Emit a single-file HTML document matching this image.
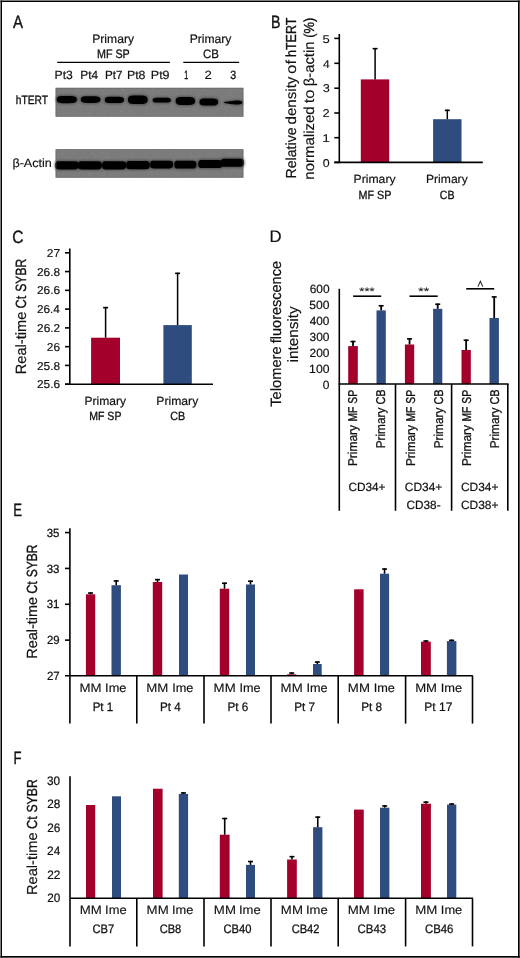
<!DOCTYPE html>
<html><head><meta charset="utf-8"><style>
html,body{margin:0;padding:0;background:#fff;}
svg{display:block;}
text{font-family:"Liberation Sans", sans-serif;fill:#111;text-rendering:geometricPrecision;}
</style></head><body>
<svg width="520" height="958" viewBox="0 0 520 958">
<defs><filter id="bl" x="-10%" y="-50%" width="120%" height="200%"><feGaussianBlur stdDeviation="0.6"/></filter>
<filter id="bl2" x="-20%" y="-80%" width="140%" height="260%"><feGaussianBlur stdDeviation="1.3"/></filter>
<filter id="noise" x="0" y="0" width="100%" height="100%"><feTurbulence type="fractalNoise" baseFrequency="0.35" numOctaves="2" seed="3"/><feColorMatrix type="matrix" values="0 0 0 0 0.47  0 0 0 0 0.47  0 0 0 0 0.47  0 0 0 1.2 -0.6"/></filter>
<pattern id="tex" patternUnits="userSpaceOnUse" width="190" height="30"><rect width="190" height="30" filter="url(#noise)"/></pattern></defs>
<rect x="0" y="0" width="520" height="958" fill="#fff"/>
<g id="gel"><rect x="55.6" y="87.8" width="187.8" height="28.9" fill="#7b7b7b"/><rect x="55.6" y="149.2" width="187.8" height="28.5" fill="#7b7b7b"/><rect x="55.6" y="87.8" width="187.8" height="28.9" fill="url(#tex)" opacity="0.25"/><rect x="55.6" y="149.2" width="187.8" height="28.5" fill="url(#tex)" opacity="0.25"/><g filter="url(#bl2)" fill="#2a2a2a" opacity="0.55"><path d="M55.80 99.55 C55.80 95.45 58.60 95.00 62.80 95.00 L70.80 95.00 C75.35 95.00 77.80 96.09 77.80 99.55 C77.80 103.01 75.35 104.10 70.80 104.10 L62.80 104.10 C58.60 104.10 55.80 103.65 55.80 99.55 Z"/><path d="M79.90 99.60 C79.90 95.82 82.70 95.40 86.90 95.40 L94.30 95.40 C98.85 95.40 101.30 96.41 101.30 99.60 C101.30 102.79 98.85 103.80 94.30 103.80 L86.90 103.80 C82.70 103.80 79.90 103.38 79.90 99.60 Z"/><path d="M103.90 99.90 C103.90 96.30 106.70 95.90 110.90 95.90 L117.90 95.90 C122.45 95.90 124.90 96.86 124.90 99.90 C124.90 102.94 122.45 103.90 117.90 103.90 L110.90 103.90 C106.70 103.90 103.90 103.50 103.90 99.90 Z"/><path d="M127.00 99.75 C127.00 95.11 129.80 94.60 134.00 94.60 L141.60 94.60 C146.15 94.60 148.60 95.84 148.60 99.75 C148.60 103.66 146.15 104.90 141.60 104.90 L134.00 104.90 C129.80 104.90 127.00 104.39 127.00 99.75 Z"/><path d="M151.80 100.20 C151.80 97.23 154.52 96.90 158.60 96.90 L165.00 96.90 C169.42 96.90 171.80 97.69 171.80 100.20 C171.80 102.71 169.42 103.50 165.00 103.50 L158.60 103.50 C154.52 103.50 151.80 103.17 151.80 100.20 Z"/><path d="M174.80 101.05 C174.80 96.68 177.60 96.20 181.80 96.20 L189.00 96.20 C193.55 96.20 196.00 97.36 196.00 101.05 C196.00 104.74 193.55 105.90 189.00 105.90 L181.80 105.90 C177.60 105.90 174.80 105.42 174.80 101.05 Z"/><path d="M198.60 102.05 C198.60 98.04 201.37 97.60 205.54 97.60 L212.06 97.60 C216.57 97.60 219.00 98.67 219.00 102.05 C219.00 105.43 216.57 106.50 212.06 106.50 L205.54 106.50 C201.37 106.50 198.60 106.06 198.60 102.05 Z"/><path d="M222.90 102.60 C222.90 101.73 225.67 101.44 229.84 100.74 L236.36 99.70 C240.87 99.70 243.30 100.40 243.30 102.60 C243.30 104.80 240.87 105.50 236.36 105.50 L229.84 104.46 C225.67 103.76 222.90 103.47 222.90 102.60 Z"/><path d="M54.40 165.35 C54.40 160.90 56.02 160.40 58.45 160.40 L75.65 160.40 C78.28 160.40 79.70 161.59 79.70 165.35 C79.70 169.11 78.28 170.30 75.65 170.30 L58.45 170.30 C56.02 170.30 54.40 169.81 54.40 165.35 Z"/><path d="M77.00 165.35 C77.00 160.90 78.65 160.40 81.13 160.40 L98.67 160.40 C101.36 160.40 102.80 161.59 102.80 165.35 C102.80 169.11 101.36 170.30 98.67 170.30 L81.13 170.30 C78.65 170.30 77.00 169.81 77.00 165.35 Z"/><path d="M101.10 165.35 C101.10 160.90 102.77 160.40 105.28 160.40 L123.02 160.40 C125.74 160.40 127.20 161.59 127.20 165.35 C127.20 169.11 125.74 170.30 123.02 170.30 L105.28 170.30 C102.77 170.30 101.10 169.81 101.10 165.35 Z"/><path d="M125.20 165.10 C125.20 160.60 126.84 160.10 129.30 160.10 L146.70 160.10 C149.37 160.10 150.80 161.30 150.80 165.10 C150.80 168.90 149.37 170.10 146.70 170.10 L129.30 170.10 C126.84 170.10 125.20 169.60 125.20 165.10 Z"/><path d="M149.20 164.60 C149.20 160.37 150.79 159.90 153.18 159.90 L170.12 159.90 C172.71 159.90 174.10 161.03 174.10 164.60 C174.10 168.17 172.71 169.30 170.12 169.30 L153.18 169.30 C150.79 169.30 149.20 168.83 149.20 164.60 Z"/><path d="M173.50 164.70 C173.50 160.38 175.02 159.90 177.31 159.90 L193.49 159.90 C195.97 159.90 197.30 161.05 197.30 164.70 C197.30 168.35 195.97 169.50 193.49 169.50 L177.31 169.50 C175.02 169.50 173.50 169.02 173.50 164.70 Z"/><path d="M197.30 164.00 C197.30 159.59 198.98 159.10 201.51 159.10 L219.39 159.10 C222.13 159.10 223.60 160.28 223.60 164.00 C223.60 167.72 222.13 168.90 219.39 168.90 L201.51 168.90 C198.98 168.90 197.30 168.41 197.30 164.00 Z"/><path d="M220.00 162.75 C220.00 158.29 221.59 157.80 223.97 157.80 L240.83 157.80 C243.41 157.80 244.80 158.99 244.80 162.75 C244.80 166.51 243.41 167.70 240.83 167.70 L223.97 167.70 C221.59 167.70 220.00 167.21 220.00 162.75 Z"/></g><g filter="url(#bl)" fill="#000"><path d="M56.70 99.55 C56.70 96.27 59.45 95.90 63.57 95.90 L70.03 95.90 C74.50 95.90 76.90 96.78 76.90 99.55 C76.90 102.32 74.50 103.20 70.03 103.20 L63.57 103.20 C59.45 103.20 56.70 102.84 56.70 99.55 Z"/><path d="M80.80 99.60 C80.80 96.63 83.47 96.30 87.46 96.30 L93.74 96.30 C98.07 96.30 100.40 97.09 100.40 99.60 C100.40 102.11 98.07 102.90 93.74 102.90 L87.46 102.90 C83.47 102.90 80.80 102.57 80.80 99.60 Z"/><path d="M104.80 99.90 C104.80 97.11 107.41 96.80 111.33 96.80 L117.47 96.80 C121.72 96.80 124.00 97.54 124.00 99.90 C124.00 102.26 121.72 103.00 117.47 103.00 L111.33 103.00 C107.41 103.00 104.80 102.69 104.80 99.90 Z"/><path d="M127.90 99.75 C127.90 95.92 130.59 95.50 134.63 95.50 L140.97 95.50 C145.34 95.50 147.70 96.52 147.70 99.75 C147.70 102.98 145.34 104.00 140.97 104.00 L134.63 104.00 C130.59 104.00 127.90 103.58 127.90 99.75 Z"/><path d="M152.70 100.20 C152.70 98.04 155.18 97.80 158.89 97.80 L164.71 97.80 C168.73 97.80 170.90 98.38 170.90 100.20 C170.90 102.02 168.73 102.60 164.71 102.60 L158.89 102.60 C155.18 102.60 152.70 102.36 152.70 100.20 Z"/><path d="M175.70 101.05 C175.70 97.49 178.34 97.10 182.30 97.10 L188.50 97.10 C192.79 97.10 195.10 98.05 195.10 101.05 C195.10 104.05 192.79 105.00 188.50 105.00 L182.30 105.00 C178.34 105.00 175.70 104.61 175.70 101.05 Z"/><path d="M199.50 102.05 C199.50 98.86 202.03 98.50 205.82 98.50 L211.78 98.50 C215.89 98.50 218.10 99.35 218.10 102.05 C218.10 104.75 215.89 105.60 211.78 105.60 L205.82 105.60 C202.03 105.60 199.50 105.24 199.50 102.05 Z"/><path d="M223.80 102.60 C223.80 102.00 226.33 101.80 230.12 101.32 L236.08 100.60 C240.19 100.60 242.40 101.08 242.40 102.60 C242.40 104.12 240.19 104.60 236.08 104.60 L230.12 103.88 C226.33 103.40 223.80 103.20 223.80 102.60 Z"/><path d="M55.30 165.35 C55.30 161.71 56.80 161.30 59.06 161.30 L75.04 161.30 C77.48 161.30 78.80 162.27 78.80 165.35 C78.80 168.43 77.48 169.40 75.04 169.40 L59.06 169.40 C56.80 169.40 55.30 169.00 55.30 165.35 Z"/><path d="M77.90 165.35 C77.90 161.71 79.44 161.30 81.74 161.30 L98.06 161.30 C100.56 161.30 101.90 162.27 101.90 165.35 C101.90 168.43 100.56 169.40 98.06 169.40 L81.74 169.40 C79.44 169.40 77.90 169.00 77.90 165.35 Z"/><path d="M102.00 165.35 C102.00 161.71 103.56 161.30 105.89 161.30 L122.41 161.30 C124.94 161.30 126.30 162.27 126.30 165.35 C126.30 168.43 124.94 169.40 122.41 169.40 L105.89 169.40 C103.56 169.40 102.00 169.00 102.00 165.35 Z"/><path d="M126.10 165.10 C126.10 161.41 127.62 161.00 129.91 161.00 L146.09 161.00 C148.57 161.00 149.90 161.98 149.90 165.10 C149.90 168.22 148.57 169.20 146.09 169.20 L129.91 169.20 C127.62 169.20 126.10 168.79 126.10 165.10 Z"/><path d="M150.10 164.60 C150.10 161.18 151.58 160.80 153.80 160.80 L169.50 160.80 C171.91 160.80 173.20 161.71 173.20 164.60 C173.20 167.49 171.91 168.40 169.50 168.40 L153.80 168.40 C151.58 168.40 150.10 168.02 150.10 164.60 Z"/><path d="M174.40 164.70 C174.40 161.19 175.81 160.80 177.92 160.80 L192.88 160.80 C195.17 160.80 196.40 161.74 196.40 164.70 C196.40 167.66 195.17 168.60 192.88 168.60 L177.92 168.60 C175.81 168.60 174.40 168.21 174.40 164.70 Z"/><path d="M198.20 164.00 C198.20 160.40 199.77 160.00 202.12 160.00 L218.78 160.00 C221.33 160.00 222.70 160.96 222.70 164.00 C222.70 167.04 221.33 168.00 218.78 168.00 L202.12 168.00 C199.77 168.00 198.20 167.60 198.20 164.00 Z"/><path d="M220.90 162.75 C220.90 159.10 222.37 158.70 224.58 158.70 L240.22 158.70 C242.61 158.70 243.90 159.67 243.90 162.75 C243.90 165.83 242.61 166.80 240.22 166.80 L224.58 166.80 C222.37 166.80 220.90 166.40 220.90 162.75 Z"/></g><rect x="56.0" y="88.2" width="187.0" height="28.1" fill="none" stroke="#5e5e5e" stroke-width="0.8" opacity="0.6"/><rect x="56.0" y="149.6" width="187.0" height="27.7" fill="none" stroke="#5e5e5e" stroke-width="0.8" opacity="0.6"/></g>
<g id="shapes"><line x1="57.2" y1="62.4" x2="169.9" y2="62.4" stroke="#000" stroke-width="1.3"/><line x1="183.3" y1="62.4" x2="239.1" y2="62.4" stroke="#000" stroke-width="1.3"/><rect x="360.8" y="79.4" width="28.40" height="83.00" fill="#a3002b"/><rect x="433.1" y="119.2" width="28.40" height="43.20" fill="#2e4c7e"/><line x1="375.1" y1="47.9" x2="375.1" y2="79.4" stroke="#000" stroke-width="1.5"/><line x1="372.6" y1="48.65" x2="377.6" y2="48.65" stroke="#000" stroke-width="1.6"/><line x1="447.3" y1="109.6" x2="447.3" y2="119.2" stroke="#000" stroke-width="1.5"/><line x1="444.8" y1="110.35" x2="449.8" y2="110.35" stroke="#000" stroke-width="1.6"/><line x1="339.3" y1="34.0" x2="339.3" y2="163.1" stroke="#000" stroke-width="1.6"/><line x1="334.3" y1="38.4" x2="339.3" y2="38.4" stroke="#000" stroke-width="1.6"/><line x1="334.3" y1="63.3" x2="339.3" y2="63.3" stroke="#000" stroke-width="1.6"/><line x1="334.3" y1="88.2" x2="339.3" y2="88.2" stroke="#000" stroke-width="1.6"/><line x1="334.3" y1="113.0" x2="339.3" y2="113.0" stroke="#000" stroke-width="1.6"/><line x1="334.3" y1="137.7" x2="339.3" y2="137.7" stroke="#000" stroke-width="1.6"/><line x1="334.3" y1="162.4" x2="339.3" y2="162.4" stroke="#000" stroke-width="1.6"/><line x1="334.3" y1="162.4" x2="482.8" y2="162.4" stroke="#000" stroke-width="1.6"/><rect x="91.1" y="337.7" width="28.90" height="46.50" fill="#a3002b"/><rect x="163.4" y="325.1" width="28.40" height="59.10" fill="#2e4c7e"/><line x1="105.6" y1="306.9" x2="105.6" y2="337.7" stroke="#000" stroke-width="1.5"/><line x1="103.1" y1="307.65" x2="108.1" y2="307.65" stroke="#000" stroke-width="1.6"/><line x1="177.6" y1="272.6" x2="177.6" y2="325.1" stroke="#000" stroke-width="1.5"/><line x1="175.1" y1="273.35" x2="180.1" y2="273.35" stroke="#000" stroke-width="1.6"/><line x1="69.8" y1="248.5" x2="69.8" y2="384.9" stroke="#000" stroke-width="1.6"/><line x1="65.0" y1="384.2" x2="69.8" y2="384.2" stroke="#000" stroke-width="1.6"/><line x1="65.0" y1="365.43" x2="69.8" y2="365.43" stroke="#000" stroke-width="1.6"/><line x1="65.0" y1="346.65999999999997" x2="69.8" y2="346.65999999999997" stroke="#000" stroke-width="1.6"/><line x1="65.0" y1="327.89" x2="69.8" y2="327.89" stroke="#000" stroke-width="1.6"/><line x1="65.0" y1="309.12" x2="69.8" y2="309.12" stroke="#000" stroke-width="1.6"/><line x1="65.0" y1="290.35" x2="69.8" y2="290.35" stroke="#000" stroke-width="1.6"/><line x1="65.0" y1="271.58" x2="69.8" y2="271.58" stroke="#000" stroke-width="1.6"/><line x1="65.0" y1="252.81" x2="69.8" y2="252.81" stroke="#000" stroke-width="1.6"/><line x1="65.0" y1="384.2" x2="213.0" y2="384.2" stroke="#000" stroke-width="1.6"/><rect x="348.2" y="346.1" width="9.60" height="37.90" fill="#a3002b"/><line x1="353.0" y1="340.8" x2="353.0" y2="346.1" stroke="#000" stroke-width="1.8"/><line x1="350.5" y1="341.55" x2="355.5" y2="341.55" stroke="#000" stroke-width="1.6"/><rect x="376.5" y="310.4" width="9.30" height="73.60" fill="#2e4c7e"/><line x1="381.15" y1="305.0" x2="381.15" y2="310.4" stroke="#000" stroke-width="1.8"/><line x1="378.65" y1="305.75" x2="383.65" y2="305.75" stroke="#000" stroke-width="1.6"/><rect x="404.9" y="344.5" width="9.30" height="39.50" fill="#a3002b"/><line x1="409.54999999999995" y1="338.1" x2="409.54999999999995" y2="344.5" stroke="#000" stroke-width="1.8"/><line x1="407.04999999999995" y1="338.85" x2="412.04999999999995" y2="338.85" stroke="#000" stroke-width="1.6"/><rect x="433.1" y="308.8" width="9.20" height="75.20" fill="#2e4c7e"/><line x1="437.70000000000005" y1="303.5" x2="437.70000000000005" y2="308.8" stroke="#000" stroke-width="1.8"/><line x1="435.20000000000005" y1="304.25" x2="440.20000000000005" y2="304.25" stroke="#000" stroke-width="1.6"/><rect x="461.5" y="350.0" width="9.30" height="34.00" fill="#a3002b"/><line x1="466.15" y1="339.5" x2="466.15" y2="350.0" stroke="#000" stroke-width="1.8"/><line x1="463.65" y1="340.25" x2="468.65" y2="340.25" stroke="#000" stroke-width="1.6"/><rect x="489.5" y="318.0" width="9.40" height="66.00" fill="#2e4c7e"/><line x1="494.2" y1="296.2" x2="494.2" y2="318.0" stroke="#000" stroke-width="1.8"/><line x1="491.7" y1="296.95" x2="496.7" y2="296.95" stroke="#000" stroke-width="1.6"/><line x1="339.3" y1="288.8" x2="339.3" y2="510.8" stroke="#000" stroke-width="1.6"/><line x1="338.5" y1="384.0" x2="508.6" y2="384.0" stroke="#000" stroke-width="1.6"/><line x1="395.5" y1="384.0" x2="395.5" y2="510.8" stroke="#000" stroke-width="1.6"/><line x1="451.6" y1="384.0" x2="451.6" y2="510.8" stroke="#000" stroke-width="1.6"/><line x1="507.8" y1="384.0" x2="507.8" y2="510.8" stroke="#000" stroke-width="1.6"/><line x1="353.1" y1="296.2" x2="381.2" y2="296.2" stroke="#000" stroke-width="1.6"/><line x1="409.5" y1="296.2" x2="437.7" y2="296.2" stroke="#000" stroke-width="1.6"/><line x1="466.2" y1="288.8" x2="494.2" y2="288.8" stroke="#000" stroke-width="1.6"/><path d="M477.9 286.6 L480.35 281.3 L482.8 286.6" fill="none" stroke="#222" stroke-width="1.05"/><rect x="85.9" y="594.3" width="9.30" height="81.50" fill="#a3002b"/><line x1="90.55000000000001" y1="592.3" x2="90.55000000000001" y2="594.3" stroke="#000" stroke-width="1.6"/><line x1="88.05000000000001" y1="593.05" x2="93.05000000000001" y2="593.05" stroke="#000" stroke-width="1.6"/><rect x="111.5" y="585.2" width="9.40" height="90.60" fill="#2e4c7e"/><line x1="116.2" y1="580.2" x2="116.2" y2="585.2" stroke="#000" stroke-width="1.6"/><line x1="113.7" y1="580.95" x2="118.7" y2="580.95" stroke="#000" stroke-width="1.6"/><rect x="152.8" y="582.0" width="9.40" height="93.80" fill="#a3002b"/><line x1="157.5" y1="578.9" x2="157.5" y2="582.0" stroke="#000" stroke-width="1.6"/><line x1="155.0" y1="579.65" x2="160.0" y2="579.65" stroke="#000" stroke-width="1.6"/><rect x="179.0" y="574.5" width="9.00" height="101.30" fill="#2e4c7e"/><rect x="219.8" y="588.7" width="9.40" height="87.10" fill="#a3002b"/><line x1="224.5" y1="582.5" x2="224.5" y2="588.7" stroke="#000" stroke-width="1.6"/><line x1="222.0" y1="583.25" x2="227.0" y2="583.25" stroke="#000" stroke-width="1.6"/><rect x="246.0" y="584.5" width="9.00" height="91.30" fill="#2e4c7e"/><line x1="250.5" y1="580.5" x2="250.5" y2="584.5" stroke="#000" stroke-width="1.6"/><line x1="248.0" y1="581.25" x2="253.0" y2="581.25" stroke="#000" stroke-width="1.6"/><rect x="287.1" y="674.3" width="9.20" height="1.50" fill="#a3002b"/><line x1="291.70000000000005" y1="672.3" x2="291.70000000000005" y2="674.3" stroke="#000" stroke-width="1.6"/><line x1="289.20000000000005" y1="673.05" x2="294.20000000000005" y2="673.05" stroke="#000" stroke-width="1.6"/><rect x="313.0" y="664.0" width="8.70" height="11.80" fill="#2e4c7e"/><line x1="317.35" y1="661.3" x2="317.35" y2="664.0" stroke="#000" stroke-width="1.6"/><line x1="314.85" y1="662.05" x2="319.85" y2="662.05" stroke="#000" stroke-width="1.6"/><rect x="354.1" y="589.3" width="9.50" height="86.50" fill="#a3002b"/><rect x="380.0" y="573.7" width="9.10" height="102.10" fill="#2e4c7e"/><line x1="384.55" y1="568.3" x2="384.55" y2="573.7" stroke="#000" stroke-width="1.6"/><line x1="382.05" y1="569.05" x2="387.05" y2="569.05" stroke="#000" stroke-width="1.6"/><rect x="421.0" y="641.7" width="9.80" height="34.10" fill="#a3002b"/><line x1="425.9" y1="640.3" x2="425.9" y2="641.7" stroke="#000" stroke-width="1.6"/><line x1="423.4" y1="641.05" x2="428.4" y2="641.05" stroke="#000" stroke-width="1.6"/><rect x="446.9" y="641.1" width="9.50" height="34.70" fill="#2e4c7e"/><line x1="451.65" y1="639.6" x2="451.65" y2="641.1" stroke="#000" stroke-width="1.6"/><line x1="449.15" y1="640.35" x2="454.15" y2="640.35" stroke="#000" stroke-width="1.6"/><line x1="69.9" y1="528.2" x2="69.9" y2="723.6" stroke="#000" stroke-width="1.6"/><line x1="65.0" y1="532.56" x2="69.9" y2="532.56" stroke="#000" stroke-width="1.6"/><line x1="65.0" y1="568.42" x2="69.9" y2="568.42" stroke="#000" stroke-width="1.6"/><line x1="65.0" y1="604.28" x2="69.9" y2="604.28" stroke="#000" stroke-width="1.6"/><line x1="65.0" y1="640.14" x2="69.9" y2="640.14" stroke="#000" stroke-width="1.6"/><line x1="65.0" y1="675.8" x2="472.9" y2="675.8" stroke="#000" stroke-width="1.6"/><line x1="136.8" y1="675.8" x2="136.8" y2="723.6" stroke="#000" stroke-width="1.6"/><line x1="204.0" y1="675.8" x2="204.0" y2="723.6" stroke="#000" stroke-width="1.6"/><line x1="271.0" y1="675.8" x2="271.0" y2="723.6" stroke="#000" stroke-width="1.6"/><line x1="338.2" y1="675.8" x2="338.2" y2="723.6" stroke="#000" stroke-width="1.6"/><line x1="405.6" y1="675.8" x2="405.6" y2="723.6" stroke="#000" stroke-width="1.6"/><line x1="472.5" y1="675.8" x2="472.5" y2="723.6" stroke="#000" stroke-width="1.6"/><rect x="86.0" y="805.0" width="9.20" height="93.30" fill="#a3002b"/><rect x="112.0" y="796.3" width="9.00" height="102.00" fill="#2e4c7e"/><rect x="153.0" y="788.75" width="9.60" height="109.55" fill="#a3002b"/><rect x="178.8" y="793.9" width="9.30" height="104.40" fill="#2e4c7e"/><line x1="183.45" y1="792.2" x2="183.45" y2="793.9" stroke="#000" stroke-width="1.6"/><line x1="180.95" y1="792.95" x2="185.95" y2="792.95" stroke="#000" stroke-width="1.6"/><rect x="219.8" y="834.7" width="9.80" height="63.60" fill="#a3002b"/><line x1="224.7" y1="817.8" x2="224.7" y2="834.7" stroke="#000" stroke-width="1.6"/><line x1="222.2" y1="818.55" x2="227.2" y2="818.55" stroke="#000" stroke-width="1.6"/><rect x="246.0" y="864.9" width="9.00" height="33.40" fill="#2e4c7e"/><line x1="250.5" y1="860.8" x2="250.5" y2="864.9" stroke="#000" stroke-width="1.6"/><line x1="248.0" y1="861.55" x2="253.0" y2="861.55" stroke="#000" stroke-width="1.6"/><rect x="287.1" y="859.5" width="9.70" height="38.80" fill="#a3002b"/><line x1="291.95000000000005" y1="855.9" x2="291.95000000000005" y2="859.5" stroke="#000" stroke-width="1.6"/><line x1="289.45000000000005" y1="856.65" x2="294.45000000000005" y2="856.65" stroke="#000" stroke-width="1.6"/><rect x="313.1" y="827.2" width="9.30" height="71.10" fill="#2e4c7e"/><line x1="317.75" y1="816.4" x2="317.75" y2="827.2" stroke="#000" stroke-width="1.6"/><line x1="315.25" y1="817.15" x2="320.25" y2="817.15" stroke="#000" stroke-width="1.6"/><rect x="354.0" y="809.6" width="9.75" height="88.70" fill="#a3002b"/><rect x="380.0" y="807.7" width="9.40" height="90.60" fill="#2e4c7e"/><line x1="384.7" y1="805.2" x2="384.7" y2="807.7" stroke="#000" stroke-width="1.6"/><line x1="382.2" y1="805.95" x2="387.2" y2="805.95" stroke="#000" stroke-width="1.6"/><rect x="421.0" y="803.75" width="9.90" height="94.55" fill="#a3002b"/><line x1="425.95" y1="801.4" x2="425.95" y2="803.75" stroke="#000" stroke-width="1.6"/><line x1="423.45" y1="802.15" x2="428.45" y2="802.15" stroke="#000" stroke-width="1.6"/><rect x="447.0" y="804.6" width="9.30" height="93.70" fill="#2e4c7e"/><line x1="451.65" y1="803.3" x2="451.65" y2="804.6" stroke="#000" stroke-width="1.6"/><line x1="449.15" y1="804.05" x2="454.15" y2="804.05" stroke="#000" stroke-width="1.6"/><line x1="70.0" y1="776.2" x2="70.0" y2="946.4" stroke="#000" stroke-width="1.6"/><line x1="70.0" y1="898.3" x2="472.9" y2="898.3" stroke="#000" stroke-width="1.6"/><line x1="136.8" y1="898.3" x2="136.8" y2="946.4" stroke="#000" stroke-width="1.6"/><line x1="204.0" y1="898.3" x2="204.0" y2="946.4" stroke="#000" stroke-width="1.6"/><line x1="271.0" y1="898.3" x2="271.0" y2="946.4" stroke="#000" stroke-width="1.6"/><line x1="338.2" y1="898.3" x2="338.2" y2="946.4" stroke="#000" stroke-width="1.6"/><line x1="405.6" y1="898.3" x2="405.6" y2="946.4" stroke="#000" stroke-width="1.6"/><line x1="472.5" y1="898.3" x2="472.5" y2="946.4" stroke="#000" stroke-width="1.6"/></g>
<g id="texts" style="opacity:0.999" stroke="#111" stroke-width="0.2"><text id="t0" x="13.10" y="27.70" font-size="17.9" stroke-width="0.38" textLength="9.99" lengthAdjust="spacingAndGlyphs">A</text><text id="t1" x="92.21" y="42.60" font-size="12.2" stroke-width="0.20" textLength="41.79" lengthAdjust="spacingAndGlyphs">Primary</text><text id="t2" x="96.94" y="57.70" font-size="12.2" stroke-width="0.32" textLength="32.83" lengthAdjust="spacingAndGlyphs">MF SP</text><text id="t3" x="189.64" y="42.60" font-size="12.2" stroke-width="0.21" textLength="41.81" lengthAdjust="spacingAndGlyphs">Primary</text><text id="t4" x="202.89" y="57.70" font-size="12.2" stroke-width="0.26" textLength="15.90" lengthAdjust="spacingAndGlyphs">CB</text><text id="t5" x="54.51" y="78.50" font-size="12.0" stroke-width="0.19" textLength="18.29" lengthAdjust="spacingAndGlyphs">Pt3</text><text id="t6" x="80.35" y="78.50" font-size="12.0" stroke-width="0.21" textLength="17.83" lengthAdjust="spacingAndGlyphs">Pt4</text><text id="t7" x="104.97" y="78.50" font-size="12.0" stroke-width="0.23" textLength="17.42" lengthAdjust="spacingAndGlyphs">Pt7</text><text id="t8" x="126.95" y="78.50" font-size="12.0" stroke-width="0.16" textLength="18.57" lengthAdjust="spacingAndGlyphs">Pt8</text><text id="t9" x="150.82" y="78.50" font-size="12.0" stroke-width="0.18" textLength="18.72" lengthAdjust="spacingAndGlyphs">Pt9</text><text id="t10" x="184.23" y="78.50" font-size="12.0" stroke-width="0.42" textLength="3.94" lengthAdjust="spacingAndGlyphs">1</text><text id="t11" x="204.61" y="78.50" font-size="12.0" stroke-width="0.10" textLength="7.37" lengthAdjust="spacingAndGlyphs">2</text><text id="t12" x="230.37" y="78.50" font-size="12.0" stroke-width="0.31" textLength="5.98" lengthAdjust="spacingAndGlyphs">3</text><text id="t13" x="15.72" y="104.00" font-size="12.0" stroke-width="0.34" textLength="32.24" lengthAdjust="spacingAndGlyphs">hTERT</text><text id="t14" x="12.43" y="167.30" font-size="12.0" stroke-width="0.15" textLength="39.46" lengthAdjust="spacingAndGlyphs">β-Actin</text><text id="t15" x="271.11" y="27.60" font-size="17.9" stroke-width="0.40" textLength="9.45" lengthAdjust="spacingAndGlyphs">B</text><text id="t16" transform="translate(295.80,178.44) rotate(-90)" x="0" y="0" font-size="14.5" stroke-width="0.23" textLength="50.97" lengthAdjust="spacingAndGlyphs">Relative</text><text id="t17" transform="translate(295.80,124.44) rotate(-90)" x="0" y="0" font-size="14.5" stroke-width="0.16" textLength="47.82" lengthAdjust="spacingAndGlyphs">density</text><text id="t18" transform="translate(295.80,73.90) rotate(-90)" x="0" y="0" font-size="14.5" stroke-width="0.10" textLength="14.11" lengthAdjust="spacingAndGlyphs">of</text><text id="t19" transform="translate(295.80,56.95) rotate(-90)" x="0" y="0" font-size="14.5" stroke-width="0.35" textLength="39.30" lengthAdjust="spacingAndGlyphs">hTERT</text><text id="t20" transform="translate(313.50,179.68) rotate(-90)" x="0" y="0" font-size="14.5" stroke-width="0.17" textLength="73.38" lengthAdjust="spacingAndGlyphs">normalized</text><text id="t21" transform="translate(313.50,103.34) rotate(-90)" x="0" y="0" font-size="14.5" stroke-width="0.10" textLength="13.89" lengthAdjust="spacingAndGlyphs">to</text><text id="t22" transform="translate(313.50,86.20) rotate(-90)" x="0" y="0" font-size="14.5" stroke-width="0.18" textLength="44.58" lengthAdjust="spacingAndGlyphs">β-actin</text><text id="t23" transform="translate(313.50,37.74) rotate(-90)" x="0" y="0" font-size="14.5" stroke-width="0.30" textLength="20.13" lengthAdjust="spacingAndGlyphs">(%)</text><text id="t24" x="322.51" y="42.60" font-size="11.3" stroke-width="0.10" textLength="7.26" lengthAdjust="spacingAndGlyphs">5</text><text id="t25" x="322.99" y="67.50" font-size="11.3" stroke-width="0.15" textLength="6.72" lengthAdjust="spacingAndGlyphs">4</text><text id="t26" x="322.75" y="92.40" font-size="11.3" stroke-width="0.10" textLength="7.09" lengthAdjust="spacingAndGlyphs">3</text><text id="t27" x="322.63" y="117.20" font-size="11.3" stroke-width="0.10" textLength="7.15" lengthAdjust="spacingAndGlyphs">2</text><text id="t28" x="322.19" y="141.90" font-size="11.3" stroke-width="0.10" textLength="7.65" lengthAdjust="spacingAndGlyphs">1</text><text id="t29" x="322.89" y="166.60" font-size="11.3" stroke-width="0.11" textLength="6.90" lengthAdjust="spacingAndGlyphs">0</text><text id="t30" x="353.61" y="183.10" font-size="11.9" stroke-width="0.18" textLength="41.92" lengthAdjust="spacingAndGlyphs">Primary</text><text id="t31" x="358.48" y="198.80" font-size="11.9" stroke-width="0.30" textLength="32.93" lengthAdjust="spacingAndGlyphs">MF SP</text><text id="t32" x="426.04" y="183.30" font-size="11.9" stroke-width="0.17" textLength="41.66" lengthAdjust="spacingAndGlyphs">Primary</text><text id="t33" x="439.82" y="198.60" font-size="11.9" stroke-width="0.32" textLength="14.72" lengthAdjust="spacingAndGlyphs">CB</text><text id="t34" x="12.27" y="242.80" font-size="17.9" stroke-width="0.34" textLength="11.22" lengthAdjust="spacingAndGlyphs">C</text><text id="t35" transform="translate(25.90,374.30) rotate(-90)" x="0" y="0" font-size="14.8" stroke-width="0.21" textLength="62.75" lengthAdjust="spacingAndGlyphs">Real-time</text><text id="t36" transform="translate(25.90,308.43) rotate(-90)" x="0" y="0" font-size="14.8" stroke-width="0.30" textLength="12.82" lengthAdjust="spacingAndGlyphs">Ct</text><text id="t37" transform="translate(25.90,291.72) rotate(-90)" x="0" y="0" font-size="14.8" stroke-width="0.38" textLength="32.99" lengthAdjust="spacingAndGlyphs">SYBR</text><text id="t38" x="37.04" y="388.30" font-size="11.5" stroke-width="0.17" textLength="23.05" lengthAdjust="spacingAndGlyphs">25.6</text><text id="t39" x="37.02" y="369.53" font-size="11.5" stroke-width="0.17" textLength="23.09" lengthAdjust="spacingAndGlyphs">25.8</text><text id="t40" x="46.88" y="350.76" font-size="11.5" stroke-width="0.13" textLength="13.34" lengthAdjust="spacingAndGlyphs">26</text><text id="t41" x="37.12" y="331.99" font-size="11.5" stroke-width="0.18" textLength="23.00" lengthAdjust="spacingAndGlyphs">26.2</text><text id="t42" x="37.04" y="313.22" font-size="11.5" stroke-width="0.16" textLength="22.82" lengthAdjust="spacingAndGlyphs">26.4</text><text id="t43" x="37.04" y="294.45" font-size="11.5" stroke-width="0.17" textLength="23.05" lengthAdjust="spacingAndGlyphs">26.6</text><text id="t44" x="37.02" y="275.68" font-size="11.5" stroke-width="0.17" textLength="23.09" lengthAdjust="spacingAndGlyphs">26.8</text><text id="t45" x="46.89" y="256.91" font-size="11.5" stroke-width="0.14" textLength="13.27" lengthAdjust="spacingAndGlyphs">27</text><text id="t46" x="84.42" y="404.60" font-size="11.9" stroke-width="0.19" textLength="41.53" lengthAdjust="spacingAndGlyphs">Primary</text><text id="t47" x="89.22" y="419.80" font-size="11.9" stroke-width="0.32" textLength="32.19" lengthAdjust="spacingAndGlyphs">MF SP</text><text id="t48" x="156.39" y="405.00" font-size="11.9" stroke-width="0.19" textLength="41.89" lengthAdjust="spacingAndGlyphs">Primary</text><text id="t49" x="170.35" y="420.30" font-size="11.9" stroke-width="0.30" textLength="14.96" lengthAdjust="spacingAndGlyphs">CB</text><text id="t50" x="269.38" y="241.90" font-size="16.7" stroke-width="0.21" textLength="12.08" lengthAdjust="spacingAndGlyphs">D</text><text id="t51" transform="translate(280.80,406.74) rotate(-90)" x="0" y="0" font-size="14.9" stroke-width="0.21" textLength="60.41" lengthAdjust="spacingAndGlyphs">Telomere</text><text id="t52" transform="translate(280.80,343.23) rotate(-90)" x="0" y="0" font-size="14.9" stroke-width="0.23" textLength="82.24" lengthAdjust="spacingAndGlyphs">fluorescence</text><text id="t53" transform="translate(298.20,362.51) rotate(-90)" x="0" y="0" font-size="14.9" stroke-width="0.17" textLength="56.15" lengthAdjust="spacingAndGlyphs">intensity</text><text id="t54" x="309.67" y="293.00" font-size="11.9" stroke-width="0.20" textLength="19.88" lengthAdjust="spacingAndGlyphs">600</text><text id="t55" x="309.33" y="308.80" font-size="11.9" stroke-width="0.20" textLength="20.19" lengthAdjust="spacingAndGlyphs">500</text><text id="t56" x="309.73" y="325.00" font-size="11.9" stroke-width="0.22" textLength="19.64" lengthAdjust="spacingAndGlyphs">400</text><text id="t57" x="309.57" y="341.00" font-size="11.9" stroke-width="0.19" textLength="19.95" lengthAdjust="spacingAndGlyphs">300</text><text id="t58" x="309.60" y="357.00" font-size="11.9" stroke-width="0.19" textLength="19.92" lengthAdjust="spacingAndGlyphs">200</text><text id="t59" x="309.13" y="372.60" font-size="11.9" stroke-width="0.19" textLength="20.33" lengthAdjust="spacingAndGlyphs">100</text><text id="t60" x="322.86" y="388.50" font-size="11.9" stroke-width="0.16" textLength="6.67" lengthAdjust="spacingAndGlyphs">0</text><text id="t61" transform="translate(357.30,466.08) rotate(-90)" x="0" y="0" font-size="12.8" stroke-width="0.26" textLength="41.06" lengthAdjust="spacingAndGlyphs">Primary</text><text id="t62" transform="translate(357.30,421.62) rotate(-90)" x="0" y="0" font-size="12.8" stroke-width="0.40" textLength="15.09" lengthAdjust="spacingAndGlyphs">MF</text><text id="t63" transform="translate(357.30,403.69) rotate(-90)" x="0" y="0" font-size="12.8" stroke-width="0.37" textLength="13.90" lengthAdjust="spacingAndGlyphs">SP</text><text id="t64" transform="translate(414.90,466.08) rotate(-90)" x="0" y="0" font-size="12.8" stroke-width="0.26" textLength="41.06" lengthAdjust="spacingAndGlyphs">Primary</text><text id="t65" transform="translate(414.90,421.62) rotate(-90)" x="0" y="0" font-size="12.8" stroke-width="0.40" textLength="15.09" lengthAdjust="spacingAndGlyphs">MF</text><text id="t66" transform="translate(414.90,403.69) rotate(-90)" x="0" y="0" font-size="12.8" stroke-width="0.37" textLength="13.90" lengthAdjust="spacingAndGlyphs">SP</text><text id="t67" transform="translate(471.30,466.08) rotate(-90)" x="0" y="0" font-size="12.8" stroke-width="0.26" textLength="41.06" lengthAdjust="spacingAndGlyphs">Primary</text><text id="t68" transform="translate(471.30,421.62) rotate(-90)" x="0" y="0" font-size="12.8" stroke-width="0.40" textLength="15.09" lengthAdjust="spacingAndGlyphs">MF</text><text id="t69" transform="translate(471.30,403.69) rotate(-90)" x="0" y="0" font-size="12.8" stroke-width="0.37" textLength="13.90" lengthAdjust="spacingAndGlyphs">SP</text><text id="t70" transform="translate(385.20,448.36) rotate(-90)" x="0" y="0" font-size="12.8" stroke-width="0.27" textLength="40.82" lengthAdjust="spacingAndGlyphs">Primary</text><text id="t71" transform="translate(385.20,404.57) rotate(-90)" x="0" y="0" font-size="12.8" stroke-width="0.35" textLength="15.16" lengthAdjust="spacingAndGlyphs">CB</text><text id="t72" transform="translate(443.00,448.36) rotate(-90)" x="0" y="0" font-size="12.8" stroke-width="0.27" textLength="40.82" lengthAdjust="spacingAndGlyphs">Primary</text><text id="t73" transform="translate(443.00,404.57) rotate(-90)" x="0" y="0" font-size="12.8" stroke-width="0.35" textLength="15.16" lengthAdjust="spacingAndGlyphs">CB</text><text id="t74" transform="translate(499.30,448.36) rotate(-90)" x="0" y="0" font-size="12.8" stroke-width="0.27" textLength="40.82" lengthAdjust="spacingAndGlyphs">Primary</text><text id="t75" transform="translate(499.30,404.57) rotate(-90)" x="0" y="0" font-size="12.8" stroke-width="0.35" textLength="15.16" lengthAdjust="spacingAndGlyphs">CB</text><text id="t76" x="348.38" y="490.80" font-size="11.9" stroke-width="0.21" textLength="37.14" lengthAdjust="spacingAndGlyphs">CD34+</text><text id="t77" x="404.79" y="490.80" font-size="11.9" stroke-width="0.19" textLength="37.57" lengthAdjust="spacingAndGlyphs">CD34+</text><text id="t78" x="460.96" y="490.80" font-size="11.9" stroke-width="0.19" textLength="37.55" lengthAdjust="spacingAndGlyphs">CD34+</text><text id="t79" x="406.51" y="509.20" font-size="11.9" stroke-width="0.22" textLength="34.12" lengthAdjust="spacingAndGlyphs">CD38-</text><text id="t80" x="460.96" y="509.20" font-size="11.9" stroke-width="0.19" textLength="37.55" lengthAdjust="spacingAndGlyphs">CD38+</text><text id="t81" x="13.17" y="515.80" font-size="17.9" stroke-width="0.42" textLength="8.75" lengthAdjust="spacingAndGlyphs">E</text><text id="t82" transform="translate(36.90,658.81) rotate(-90)" x="0" y="0" font-size="14.7" stroke-width="0.21" textLength="61.99" lengthAdjust="spacingAndGlyphs">Real-time</text><text id="t83" transform="translate(36.90,593.83) rotate(-90)" x="0" y="0" font-size="14.7" stroke-width="0.33" textLength="12.73" lengthAdjust="spacingAndGlyphs">Ct</text><text id="t84" transform="translate(36.90,577.34) rotate(-90)" x="0" y="0" font-size="14.7" stroke-width="0.37" textLength="32.89" lengthAdjust="spacingAndGlyphs">SYBR</text><text id="t85" x="46.75" y="536.76" font-size="11.9" stroke-width="0.25" textLength="12.72" lengthAdjust="spacingAndGlyphs">35</text><text id="t86" x="46.74" y="572.62" font-size="11.9" stroke-width="0.25" textLength="12.74" lengthAdjust="spacingAndGlyphs">33</text><text id="t87" x="46.76" y="608.48" font-size="11.9" stroke-width="0.25" textLength="12.74" lengthAdjust="spacingAndGlyphs">31</text><text id="t88" x="46.95" y="644.34" font-size="11.9" stroke-width="0.22" textLength="12.66" lengthAdjust="spacingAndGlyphs">29</text><text id="t89" x="46.95" y="680.20" font-size="11.9" stroke-width="0.22" textLength="12.67" lengthAdjust="spacingAndGlyphs">27</text><text id="t90" x="79.46" y="691.70" font-size="12.3" stroke-width="0.12" textLength="22.10" lengthAdjust="spacingAndGlyphs">MM</text><text id="t91" x="105.14" y="691.70" font-size="12.3" stroke-width="0.16" textLength="21.34" lengthAdjust="spacingAndGlyphs">Ime</text><text id="t92" x="92.63" y="710.80" font-size="12.3" stroke-width="0.26" textLength="20.47" lengthAdjust="spacingAndGlyphs">Pt 1</text><text id="t93" x="146.29" y="691.70" font-size="12.3" stroke-width="0.12" textLength="22.16" lengthAdjust="spacingAndGlyphs">MM</text><text id="t94" x="172.18" y="691.70" font-size="12.3" stroke-width="0.16" textLength="21.20" lengthAdjust="spacingAndGlyphs">Ime</text><text id="t95" x="159.98" y="710.80" font-size="12.3" stroke-width="0.26" textLength="20.66" lengthAdjust="spacingAndGlyphs">Pt 4</text><text id="t96" x="213.63" y="691.70" font-size="12.3" stroke-width="0.13" textLength="22.03" lengthAdjust="spacingAndGlyphs">MM</text><text id="t97" x="239.40" y="691.70" font-size="12.3" stroke-width="0.17" textLength="21.13" lengthAdjust="spacingAndGlyphs">Ime</text><text id="t98" x="227.51" y="710.80" font-size="12.3" stroke-width="0.25" textLength="20.80" lengthAdjust="spacingAndGlyphs">Pt 6</text><text id="t99" x="280.63" y="691.70" font-size="12.3" stroke-width="0.13" textLength="22.03" lengthAdjust="spacingAndGlyphs">MM</text><text id="t100" x="306.40" y="691.70" font-size="12.3" stroke-width="0.17" textLength="21.13" lengthAdjust="spacingAndGlyphs">Ime</text><text id="t101" x="294.14" y="710.80" font-size="12.3" stroke-width="0.26" textLength="20.85" lengthAdjust="spacingAndGlyphs">Pt 7</text><text id="t102" x="347.89" y="691.70" font-size="12.3" stroke-width="0.13" textLength="22.02" lengthAdjust="spacingAndGlyphs">MM</text><text id="t103" x="373.68" y="691.70" font-size="12.3" stroke-width="0.16" textLength="21.23" lengthAdjust="spacingAndGlyphs">Ime</text><text id="t104" x="361.14" y="710.80" font-size="12.3" stroke-width="0.24" textLength="20.97" lengthAdjust="spacingAndGlyphs">Pt 8</text><text id="t105" x="415.18" y="691.70" font-size="12.3" stroke-width="0.14" textLength="21.88" lengthAdjust="spacingAndGlyphs">MM</text><text id="t106" x="440.74" y="691.70" font-size="12.3" stroke-width="0.15" textLength="21.43" lengthAdjust="spacingAndGlyphs">Ime</text><text id="t107" x="424.34" y="710.80" font-size="12.3" stroke-width="0.23" textLength="28.04" lengthAdjust="spacingAndGlyphs">Pt 17</text><text id="t108" x="13.38" y="764.30" font-size="17.9" stroke-width="0.42" textLength="7.99" lengthAdjust="spacingAndGlyphs">F</text><text id="t109" transform="translate(36.70,895.04) rotate(-90)" x="0" y="0" font-size="14.5" stroke-width="0.19" textLength="62.74" lengthAdjust="spacingAndGlyphs">Real-time</text><text id="t110" transform="translate(36.70,829.08) rotate(-90)" x="0" y="0" font-size="14.5" stroke-width="0.32" textLength="12.86" lengthAdjust="spacingAndGlyphs">Ct</text><text id="t111" transform="translate(36.70,812.61) rotate(-90)" x="0" y="0" font-size="14.5" stroke-width="0.35" textLength="33.44" lengthAdjust="spacingAndGlyphs">SYBR</text><text id="t112" x="47.06" y="784.70" font-size="12.2" stroke-width="0.23" textLength="13.09" lengthAdjust="spacingAndGlyphs">30</text><text id="t113" x="47.18" y="808.24" font-size="12.2" stroke-width="0.23" textLength="13.08" lengthAdjust="spacingAndGlyphs">28</text><text id="t114" x="47.13" y="831.78" font-size="12.2" stroke-width="0.23" textLength="13.11" lengthAdjust="spacingAndGlyphs">26</text><text id="t115" x="47.09" y="855.32" font-size="12.2" stroke-width="0.22" textLength="13.19" lengthAdjust="spacingAndGlyphs">24</text><text id="t116" x="47.16" y="878.86" font-size="12.2" stroke-width="0.22" textLength="13.19" lengthAdjust="spacingAndGlyphs">22</text><text id="t117" x="47.21" y="902.40" font-size="12.2" stroke-width="0.22" textLength="13.06" lengthAdjust="spacingAndGlyphs">20</text><text id="t118" x="79.67" y="914.40" font-size="12.3" stroke-width="0.13" textLength="22.03" lengthAdjust="spacingAndGlyphs">MM</text><text id="t119" x="105.13" y="914.40" font-size="12.3" stroke-width="0.14" textLength="21.57" lengthAdjust="spacingAndGlyphs">Ime</text><text id="t120" x="92.52" y="933.40" font-size="12.3" stroke-width="0.29" textLength="21.78" lengthAdjust="spacingAndGlyphs">CB7</text><text id="t121" x="146.63" y="914.40" font-size="12.3" stroke-width="0.13" textLength="22.03" lengthAdjust="spacingAndGlyphs">MM</text><text id="t122" x="172.01" y="914.40" font-size="12.3" stroke-width="0.14" textLength="21.42" lengthAdjust="spacingAndGlyphs">Ime</text><text id="t123" x="159.63" y="933.40" font-size="12.3" stroke-width="0.30" textLength="21.59" lengthAdjust="spacingAndGlyphs">CB8</text><text id="t124" x="213.89" y="914.40" font-size="12.3" stroke-width="0.13" textLength="22.02" lengthAdjust="spacingAndGlyphs">MM</text><text id="t125" x="238.93" y="914.40" font-size="12.3" stroke-width="0.14" textLength="21.77" lengthAdjust="spacingAndGlyphs">Ime</text><text id="t126" x="223.57" y="933.40" font-size="12.3" stroke-width="0.31" textLength="27.90" lengthAdjust="spacingAndGlyphs">CB40</text><text id="t127" x="280.89" y="914.40" font-size="12.3" stroke-width="0.13" textLength="22.02" lengthAdjust="spacingAndGlyphs">MM</text><text id="t128" x="305.93" y="914.40" font-size="12.3" stroke-width="0.14" textLength="21.77" lengthAdjust="spacingAndGlyphs">Ime</text><text id="t129" x="291.65" y="933.40" font-size="12.3" stroke-width="0.30" textLength="27.84" lengthAdjust="spacingAndGlyphs">CB42</text><text id="t130" x="347.84" y="914.40" font-size="12.3" stroke-width="0.14" textLength="22.02" lengthAdjust="spacingAndGlyphs">MM</text><text id="t131" x="373.27" y="914.40" font-size="12.3" stroke-width="0.14" textLength="21.84" lengthAdjust="spacingAndGlyphs">Ime</text><text id="t132" x="357.59" y="933.40" font-size="12.3" stroke-width="0.26" textLength="28.56" lengthAdjust="spacingAndGlyphs">CB43</text><text id="t133" x="415.29" y="914.40" font-size="12.3" stroke-width="0.12" textLength="22.16" lengthAdjust="spacingAndGlyphs">MM</text><text id="t134" x="440.86" y="914.40" font-size="12.3" stroke-width="0.14" textLength="21.40" lengthAdjust="spacingAndGlyphs">Ime</text><text id="t135" x="424.91" y="933.40" font-size="12.3" stroke-width="0.28" textLength="28.55" lengthAdjust="spacingAndGlyphs">CB46</text><text id="t136" x="359.37" y="295.00" font-size="11.0" stroke-width="0.10" textLength="15.20" lengthAdjust="spacingAndGlyphs">***</text><text id="t137" x="418.36" y="295.00" font-size="11.0" stroke-width="0.10" textLength="10.84" lengthAdjust="spacingAndGlyphs">**</text></g>
<g id="border"><rect x="0.5" y="0.5" width="1.5" height="957.2" fill="#000"/><rect x="0.5" y="0.5" width="519.2" height="1.5" fill="#000"/><rect x="518.0" y="0.5" width="1.67" height="957.2" fill="#000"/><rect x="0.5" y="956.0" width="519.2" height="1.67" fill="#000"/></g>
</svg>
</body></html>
